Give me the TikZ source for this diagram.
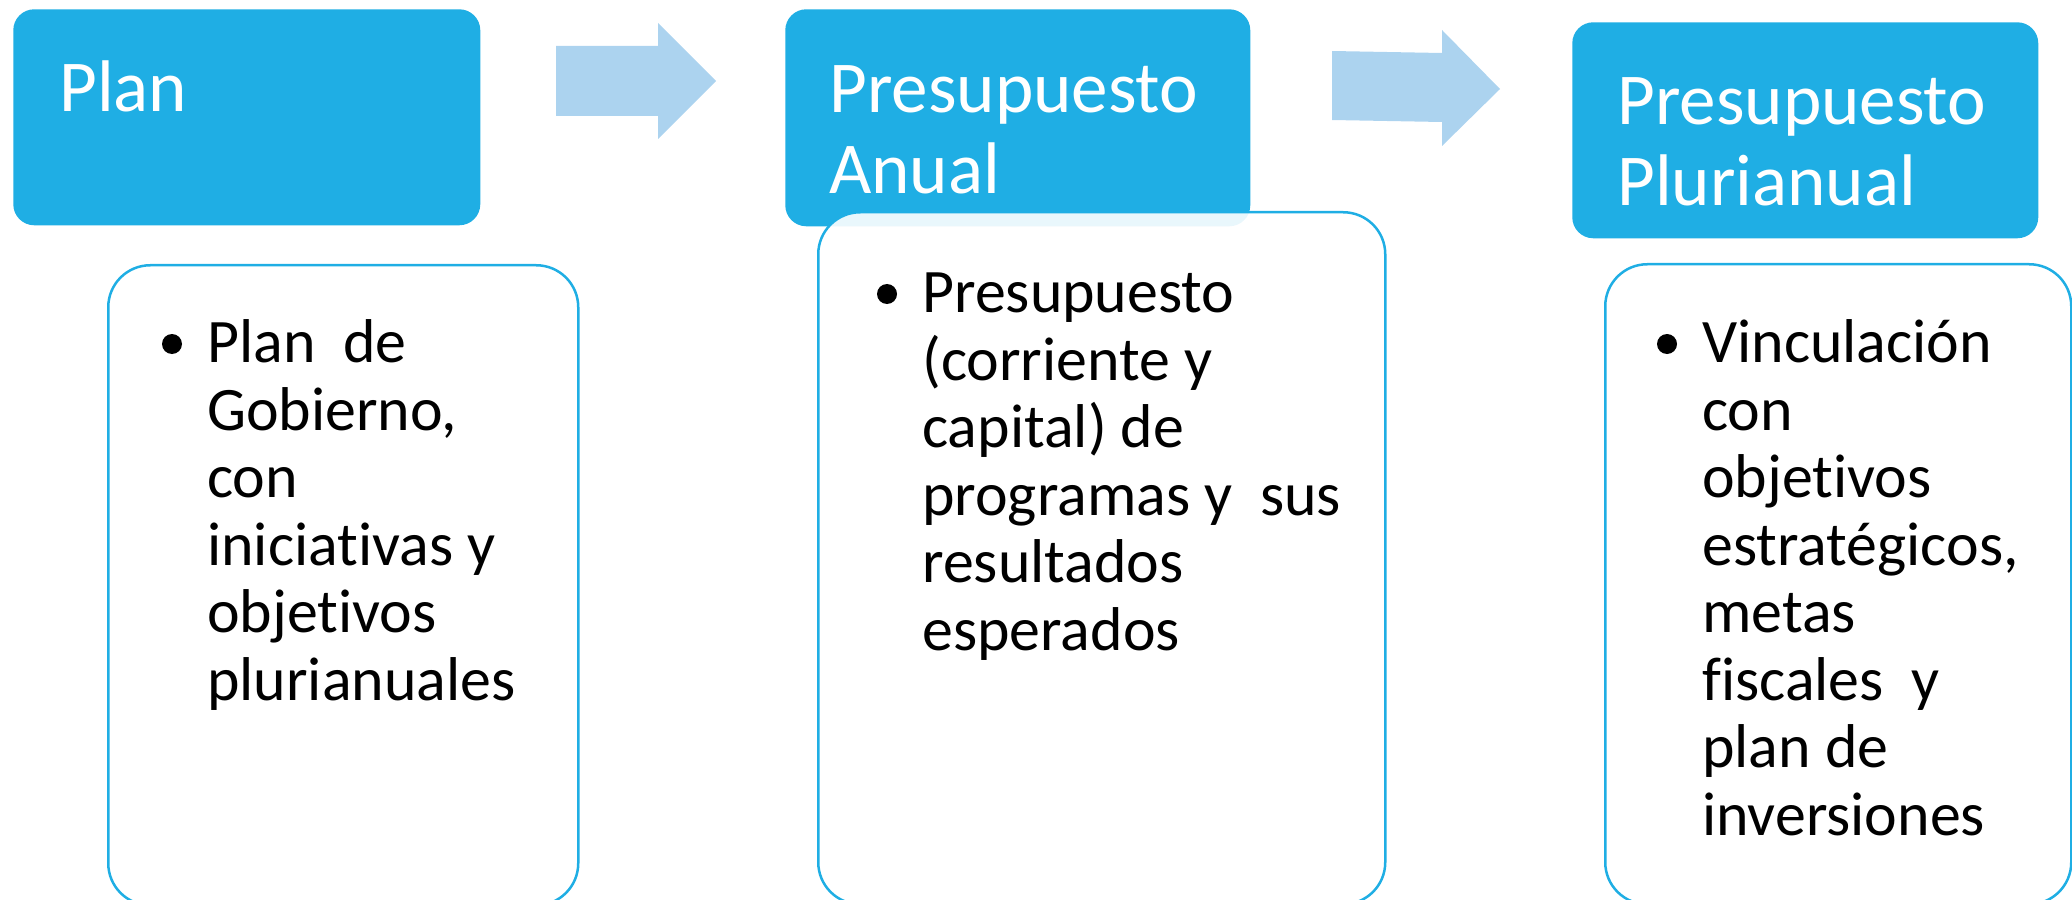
\documentclass[tikz,border=0pt]{standalone}
\usepackage{fontspec}
\setmainfont{Carlito}[Ligatures={NoCommon,NoContextual}]
\usepackage{xcolor}
\usepackage{tikz}
\usetikzlibrary{positioning}
\definecolor{hdrblue}{RGB}{31,174,228}
\definecolor{arrblue}{RGB}{172,211,239}
\newlength{\unitpx}
\setlength{\unitpx}{0.25mm}

\begin{document}
\begin{tikzpicture}[x=0.25mm, y=-0.25mm, hdr box/.style={rectangle, rounded corners=21\unitpx, fill=hdrblue, anchor=north west, inner sep=0pt}, txt box/.style={rectangle, rounded corners=42\unitpx, draw=hdrblue, line width=2.5\unitpx, fill=white, fill opacity=0.9, anchor=north west, inner sep=0pt}, hdr text/.style={text=white, font=\fontsize{52}{57.6}\selectfont, align=left, anchor=north west, inner sep=0pt}, body text/.style={text=black, font=\fontsize{44}{48}\selectfont, align=left, anchor=north west, inner sep=0pt}, blk arrow/.style={fill=arrblue, draw=none}, bullet dot/.style={fill=black}]
	\useasboundingbox (0,0) rectangle (2072,900);
	\clip (0,0) rectangle (2072,900);
	% headers
	\node[hdr box, minimum width=467\unitpx, minimum height=216\unitpx] (plan) at (13,9) {};
	\node[hdr box, minimum width=465\unitpx, minimum height=217\unitpx] (anual) at (785,9) {};
	\node[hdr box, minimum width=466\unitpx, minimum height=216\unitpx] (pluri) at (1572,22) {};
	% block arrows
	\fill[blk arrow] (556,46) -- (658,46) -- (658,23) -- (716,81) -- (658,139) -- (658,116) -- (556,116) -- cycle;
	\fill[blk arrow] (1332,51) -- (1442,53) -- (1442,30) -- (1500,89) -- (1442,146) -- (1442,122) -- (1332,120) -- cycle;
	% content boxes
	\node[txt box, minimum width=470\unitpx, minimum height=640\unitpx] (planC) at (107,264) {};
	\node[txt box, minimum width=567\unitpx, minimum height=692\unitpx] (anualC) at (817,211) {};
	\node[txt box, minimum width=466\unitpx, minimum height=640\unitpx] (pluriC) at (1604,263) {};
	% texts
	\node[hdr text] (planT) at ([shift={(46,40)}]plan.north west) {\rule{0pt}{0.85em}Plan};
	\node[hdr text] (anualT) at ([shift={(44,41)}]anual.north west) {\rule{0pt}{0.85em}Presupuesto\\Anual};
	\node[hdr text] (pluriT) at ([shift={(45,40)}]pluri.north west) {\rule{0pt}{0.85em}Presupuesto\\Plurianual};
	\node[body text] (planB) at ([shift={(100,46)}]planC.north west) {\rule{0pt}{0.85em}Plan\ \ de\\Gobierno,\\con\\iniciativas y\\objetivos\\plurianuales};
	\node[body text] (anualB) at ([shift={(105,49)}]anualC.north west) {\rule{0pt}{0.85em}Presupuesto\\(corriente y\\capital) de\\programas y\ \ sus\\resultados\\esperados};
	\node[body text] (pluriB) at ([shift={(98,47)}]pluriC.north west) {\rule{0pt}{0.85em}Vinculación\\con\\objetivos\\estratégicos,\\metas\\fiscales\ \ y\\plan de\\inversiones};
	% bullets
	\foreach \b in {planB, anualB, pluriB}
		\fill[bullet dot] ([shift={(-35,34)}]\b.north west) circle[radius=10\unitpx];
\end{tikzpicture}
\end{document}
